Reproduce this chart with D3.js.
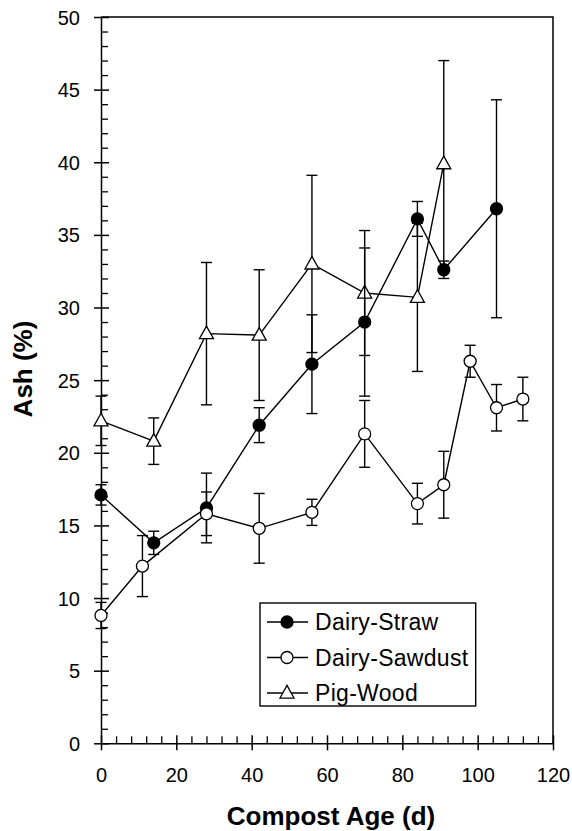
<!DOCTYPE html>
<html>
<head>
<meta charset="utf-8">
<script src="https://cdn.jsdelivr.net/npm/d3@7/dist/d3.min.js"></script>
<style>
  html, body { margin: 0; padding: 0; background: #fff; }
  svg { display: block; }
  text { font-family: "Liberation Sans", Arial, sans-serif; fill: #000; }
</style>
</head>
<body>
<svg id="chart" width="572" height="831"></svg>
<script>
// ---- data ----
const seriesNames = ["Dairy-Straw", "Dairy-Sawdust", "Pig-Wood"];

const strawDays   = [0, 14, 28, 42, 56, 70, 84, 91, 105];
const strawAsh    = [17.1, 13.8, 16.2, 21.9, 26.1, 29.0, 36.1, 32.6, 36.8];
const strawErr    = [0.7, 0.8, 2.4, 1.2, 3.4, 5.1, 1.2, 0.6, 7.5];

const sawdustDays = [0, 11, 28, 42, 56, 70, 84, 91, 98, 105, 112];
const sawdustAsh  = [8.8, 12.2, 15.8, 14.8, 15.9, 21.3, 16.5, 17.8, 26.3, 23.1, 23.7];
const sawdustErr  = [0.9, 2.1, 1.5, 2.4, 0.9, 2.3, 1.4, 2.3, 1.1, 1.6, 1.5];

const pigDays     = [0, 14, 28, 42, 56, 70, 84, 91];
const pigAsh      = [22.2, 20.8, 28.2, 28.1, 33.0, 31.0, 30.7, 39.9];
const pigErr      = [1.7, 1.6, 4.9, 4.5, 6.1, 4.3, 5.1, 7.1];

const xMajorTicks = [0, 20, 40, 60, 80, 100, 120];
const yMajorTicks = [0, 5, 10, 15, 20, 25, 30, 35, 40, 45, 50];
const xMinorTicks = d3.range(0, 121, 4).filter(v => v % 20 !== 0);
const yMinorTicks = d3.range(0, 51, 1).filter(v => v % 5 !== 0);

const xTitle = "Compost Age (d)";
const yTitle = "Ash (%)";

// ---- layout ----
const svg = d3.select("#chart");
const pLeft = 101, pRight = 553, pTop = 17, pBottom = 743.3;
const x = d3.scaleLinear().domain([0, 120]).range([pLeft, pRight]);
const y = d3.scaleLinear().domain([0, 50]).range([pBottom, pTop]);
const FONT = '"Liberation Sans", Arial, sans-serif';

// frame (top + right)
svg.append("path")
  .attr("d", `M${pLeft},${pTop}H${pRight}V${pBottom}`)
  .attr("fill", "none").attr("stroke", "#000").attr("stroke-width", 1.5);

// y axis major
const yAx = svg.append("g").attr("transform", `translate(${pLeft},0)`)
  .call(d3.axisLeft(y).tickValues(yMajorTicks).tickSize(7).tickSizeOuter(0).tickFormat(d3.format("d")));
yAx.selectAll(".tick line").attr("x1", -7).attr("x2", 8).attr("stroke-width", 1.5);
yAx.select(".domain").attr("stroke-width", 1.5);
yAx.selectAll(".tick text").attr("x", -21).attr("dy", "0.35em")
  .style("font-family", FONT).style("font-size", "20px");
// y minor
svg.append("g").attr("transform", `translate(${pLeft},0)`)
  .call(d3.axisRight(y).tickValues(yMinorTicks).tickSize(7).tickSizeOuter(0).tickFormat(""))
  .call(g => g.select(".domain").remove())
  .selectAll(".tick line").attr("stroke-width", 1.3);

// x axis major
const xAx = svg.append("g").attr("transform", `translate(0,${pBottom})`)
  .call(d3.axisBottom(x).tickValues(xMajorTicks).tickSize(7).tickSizeOuter(0).tickFormat(d3.format("d")));
xAx.selectAll(".tick line").attr("y1", -8).attr("y2", 7).attr("stroke-width", 1.5);
xAx.select(".domain").attr("stroke-width", 1.5);
xAx.selectAll(".tick text").attr("y", 24.5)
  .style("font-family", FONT).style("font-size", "20px");
// x minor
svg.append("g").attr("transform", `translate(0,${pBottom})`)
  .call(d3.axisTop(x).tickValues(xMinorTicks).tickSize(7).tickSizeOuter(0).tickFormat(""))
  .call(g => g.select(".domain").remove())
  .selectAll(".tick line").attr("stroke-width", 1.3);

// axis titles
svg.append("text").attr("x", 331).attr("y", 825)
  .attr("text-anchor", "middle").style("font-size", "26px").style("font-weight", "bold")
  .text(xTitle);
svg.append("text").attr("transform", `translate(32,369) rotate(-90)`)
  .attr("text-anchor", "middle").style("font-size", "26px").style("font-weight", "bold")
  .text(yTitle);

// ---- series ----
function makeRows(days, vals, errs) {
  return days.map((d, i) => ({ d, v: vals[i], e: errs[i] }));
}
const series = [
  { name: seriesNames[2], rows: makeRows(pigDays, pigAsh, pigErr), shape: "tri", fill: "#fff" },
  { name: seriesNames[0], rows: makeRows(strawDays, strawAsh, strawErr), shape: "circ", fill: "#000" },
  { name: seriesNames[1], rows: makeRows(sawdustDays, sawdustAsh, sawdustErr), shape: "circ", fill: "#fff" }
];

const line = d3.line().x(r => x(r.d)).y(r => y(r.v));
const triPath = (cx, cy, s) => {
  const h = s * 0.9;
  return `M${cx},${cy - h * 0.6}L${cx + s / 2},${cy + h * 0.4}L${cx - s / 2},${cy + h * 0.4}Z`;
};
const capW = 5.5;

series.forEach(s => {
  const g = svg.append("g");
  // error bars
  const eb = g.selectAll(".eb").data(s.rows).enter().append("g");
  eb.append("line")
    .attr("x1", r => x(r.d)).attr("x2", r => x(r.d))
    .attr("y1", r => y(r.v - r.e)).attr("y2", r => y(r.v + r.e))
    .attr("stroke", "#000").attr("stroke-width", 1.4);
  eb.append("line")
    .attr("x1", r => x(r.d) - capW).attr("x2", r => x(r.d) + capW)
    .attr("y1", r => y(r.v + r.e)).attr("y2", r => y(r.v + r.e))
    .attr("stroke", "#000").attr("stroke-width", 1.4);
  eb.append("line")
    .attr("x1", r => x(r.d) - capW).attr("x2", r => x(r.d) + capW)
    .attr("y1", r => y(r.v - r.e)).attr("y2", r => y(r.v - r.e))
    .attr("stroke", "#000").attr("stroke-width", 1.4);
  // connecting line
  g.append("path").datum(s.rows).attr("d", line)
    .attr("fill", "none").attr("stroke", "#000").attr("stroke-width", 1.4);
  // markers
  if (s.shape === "circ") {
    g.selectAll(".m").data(s.rows).enter().append("circle")
      .attr("cx", r => x(r.d)).attr("cy", r => y(r.v)).attr("r", 6)
      .attr("fill", s.fill).attr("stroke", "#000").attr("stroke-width", 1.3);
  } else {
    g.selectAll(".m").data(s.rows).enter().append("path")
      .attr("d", r => triPath(x(r.d), y(r.v), 14))
      .attr("fill", s.fill).attr("stroke", "#000").attr("stroke-width", 1.3);
  }
});

// ---- legend ----
const lg = svg.append("g");
lg.append("rect").attr("x", 260).attr("y", 603).attr("width", 215.7).attr("height", 103)
  .attr("fill", "#fff").attr("stroke", "#000").attr("stroke-width", 1.4);
const legendItems = [
  { name: seriesNames[0], shape: "circ", fill: "#000" },
  { name: seriesNames[1], shape: "circ", fill: "#fff" },
  { name: seriesNames[2], shape: "tri", fill: "#fff" }
];
const rowY = [622, 657.5, 693];
legendItems.forEach((it, i) => {
  const cy = rowY[i];
  lg.append("line").attr("x1", 267).attr("x2", 308).attr("y1", cy).attr("y2", cy)
    .attr("stroke", "#000").attr("stroke-width", 1.4);
  if (it.shape === "circ") {
    lg.append("circle").attr("cx", 287).attr("cy", cy).attr("r", 6)
      .attr("fill", it.fill).attr("stroke", "#000").attr("stroke-width", 1.3);
  } else {
    lg.append("path").attr("d", triPath(287, cy, 14))
      .attr("fill", it.fill).attr("stroke", "#000").attr("stroke-width", 1.3);
  }
  lg.append("text").attr("x", 315).attr("y", cy + 8)
    .style("font-size", "23px").style("letter-spacing", "0.3px")
    .text(it.name);
});
</script>
</body>
</html>
